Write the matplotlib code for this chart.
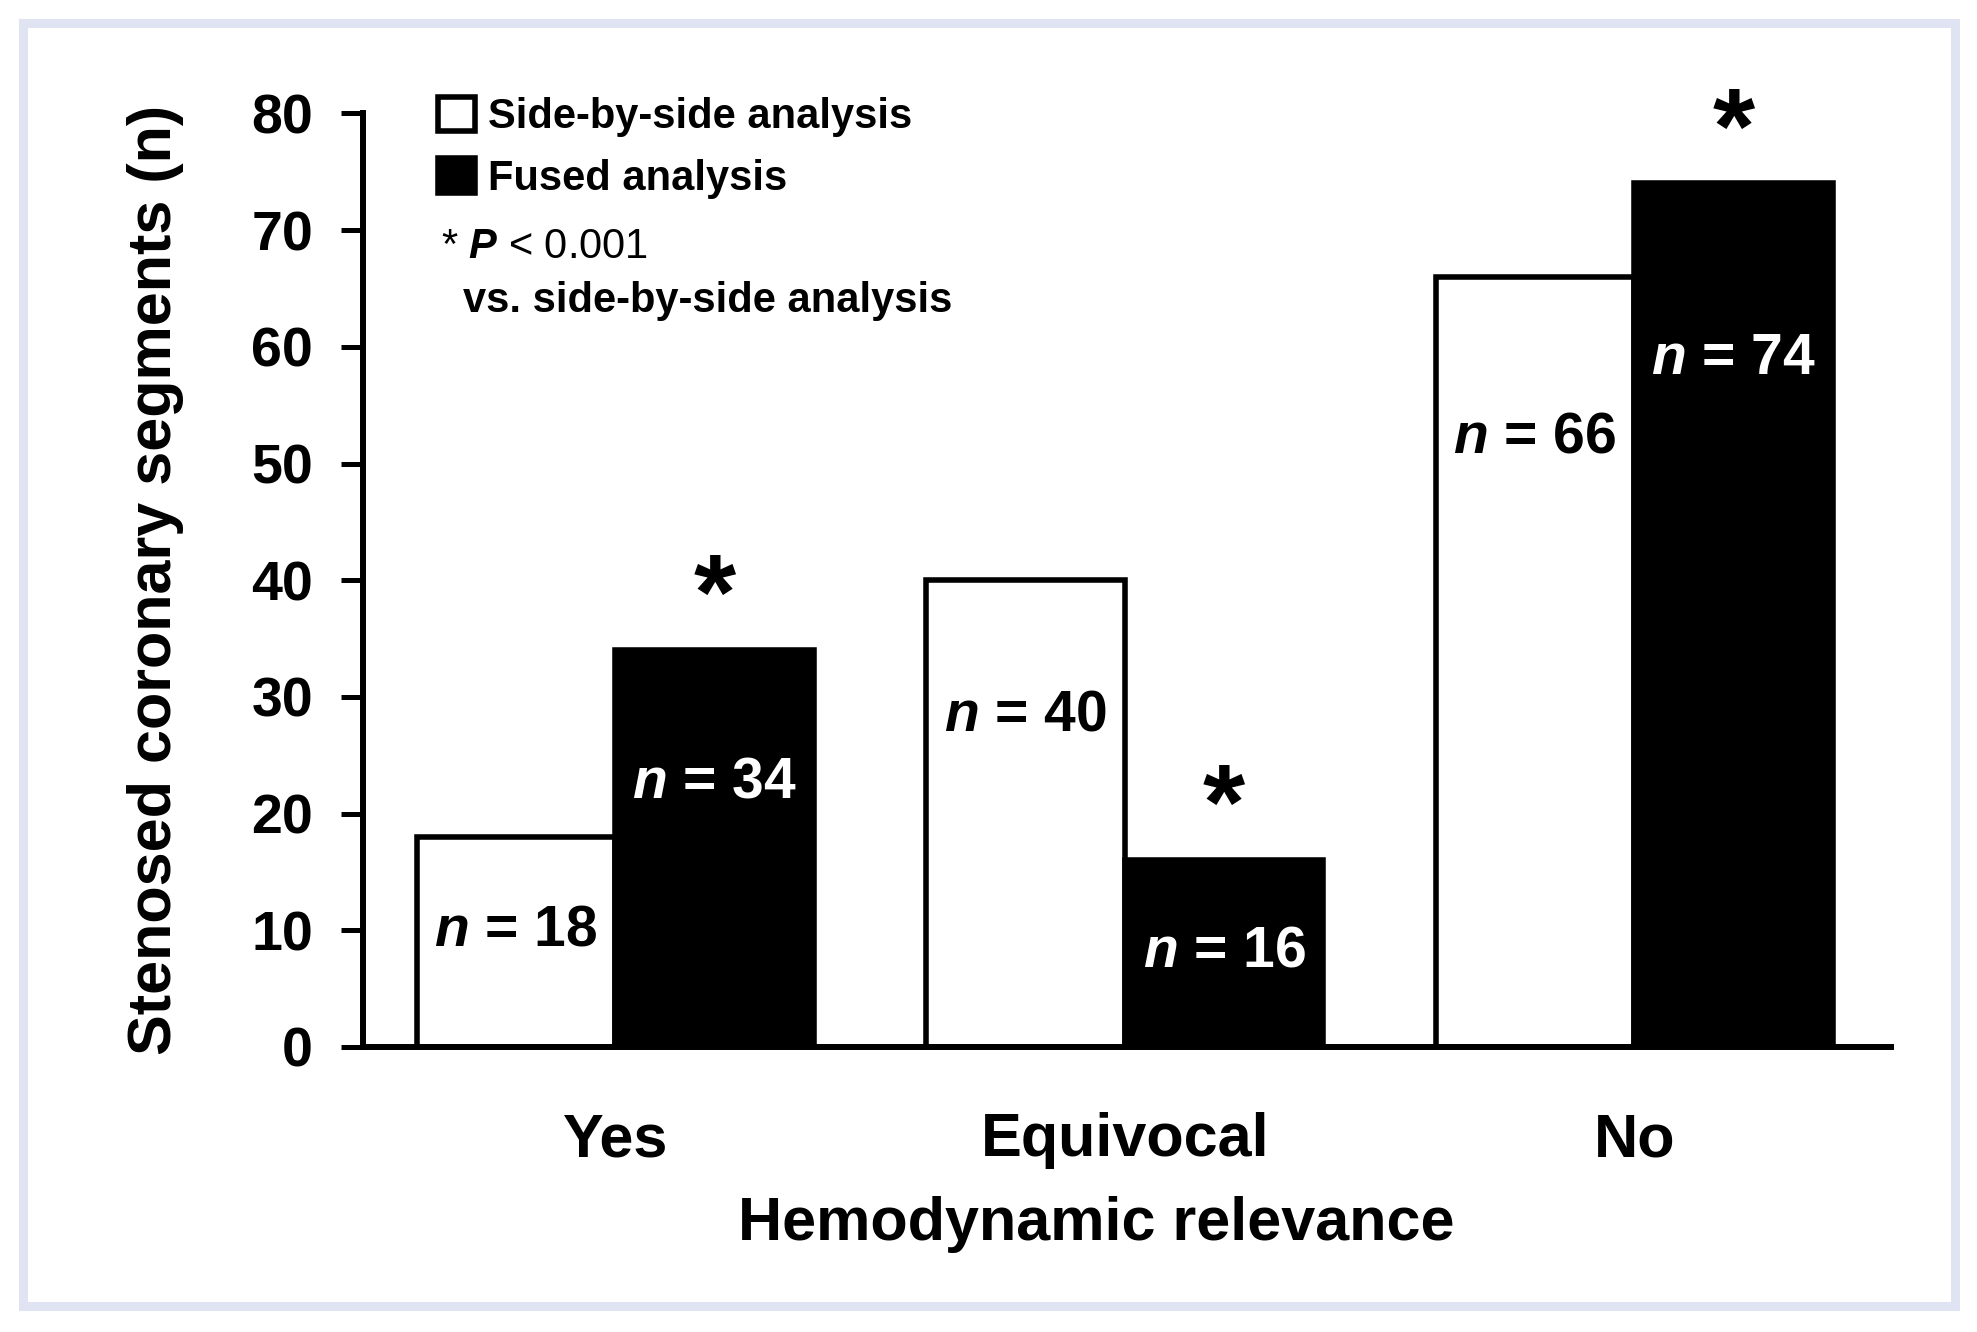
import matplotlib
matplotlib.use("Agg")
import matplotlib.pyplot as plt
from matplotlib.patches import Rectangle
import numpy as np

categories = ["Yes", "Equivocal", "No"]
side_by_side = [18, 40, 66]
fused = [34, 16, 74]
significant = [True, True, True]
y_ticks = [0, 10, 20, 30, 40, 50, 60, 70, 80]

plt.rcParams['font.family'] = ['Liberation Sans', 'DejaVu Sans']
plt.rcParams['font.weight'] = 'bold'
plt.rcParams['mathtext.fontset'] = 'custom'
plt.rcParams['mathtext.it'] = 'Liberation Sans:italic:bold'
plt.rcParams['mathtext.rm'] = 'Liberation Sans:bold'
plt.rcParams['mathtext.bf'] = 'Liberation Sans:bold'

fig = plt.figure(figsize=(19.77, 13.32), dpi=100)
fig.patch.set_facecolor('white')

# outer light frame
fig.patches.append(Rectangle((23 / 1977, 1 - 1306 / 1332), (1955 - 23) / 1977, (1306 - 23) / 1332,
                             transform=fig.transFigure, fill=False,
                             edgecolor='#dfe3f2', linewidth=6.5))

ax = fig.add_axes([0.1836, 0.2140, 0.7729, 0.7008])
x = np.arange(len(categories))
w = 0.39
lw = 4.0
b1 = ax.bar(x - w / 2, side_by_side, w, color='white', edgecolor='black', linewidth=lw,
            label='Side-by-side analysis', zorder=2)
b2 = ax.bar(x + w / 2, fused, w, color='black', edgecolor='black', linewidth=lw,
            label='Fused analysis', zorder=2)

ax.set_xlim(-0.4955, 2.504)
ax.set_ylim(0, 80)
ax.set_yticks(y_ticks)
ax.set_xticks(x)
ax.set_xticklabels(categories)
for s in ['top', 'right']:
    ax.spines[s].set_visible(False)
for s in ['left', 'bottom']:
    ax.spines[s].set_linewidth(4.3)
ax.tick_params(axis='y', direction='out', length=16, width=3.6, pad=20, labelsize=40)
ax.tick_params(axis='x', length=0, pad=47, labelsize=44)

ax.set_ylabel('Stenosed coronary segments (n)', fontsize=44, fontweight='bold')
ax.yaxis.set_label_coords(-0.117, 0.5)
ax.set_xlabel('Hemodynamic relevance', fontsize=44, fontweight='bold')
ax.xaxis.set_label_coords(0.48, -0.160)

# value labels inside bars
label_y_sbs = [10.0, 28.4, 52.2]
label_y_fused = [22.7, 8.2, 59.0]
for i in range(len(categories)):
    ax.text(x[i] - w / 2, label_y_sbs[i], r'$n$ = %d' % side_by_side[i], ha='center', va='center',
            fontsize=41, color='black', fontweight='bold', zorder=3)
    ax.text(x[i] + w / 2, label_y_fused[i], r'$n$ = %d' % fused[i], ha='center', va='center',
            fontsize=41, color='white', fontweight='bold', zorder=3)
    if significant[i]:
        ax.text(x[i] + w / 2, fused[i] + 1.8, '*', ha='center', va='baseline',
                fontsize=78, fontweight='bold', color='black', clip_on=False)

leg = ax.legend(handles=[b1, b2], loc='upper left', bbox_to_anchor=(0.0488, 1.018),
                frameon=False, fontsize=30, handlelength=0.9, handleheight=0.9,
                handletextpad=0.3, labelspacing=0.5, borderpad=0, borderaxespad=0)
for t in leg.get_texts():
    t.set_fontweight('bold')

ax.text(-0.342, 68.6, r'* $P$ < 0.001', ha='left', va='center', fontsize=30, fontweight='normal')
ax.text(-0.30, 63.9, 'vs. side-by-side analysis', ha='left', va='center', fontsize=30,
        fontweight='bold')

fig.savefig('out.png', dpi=100)
